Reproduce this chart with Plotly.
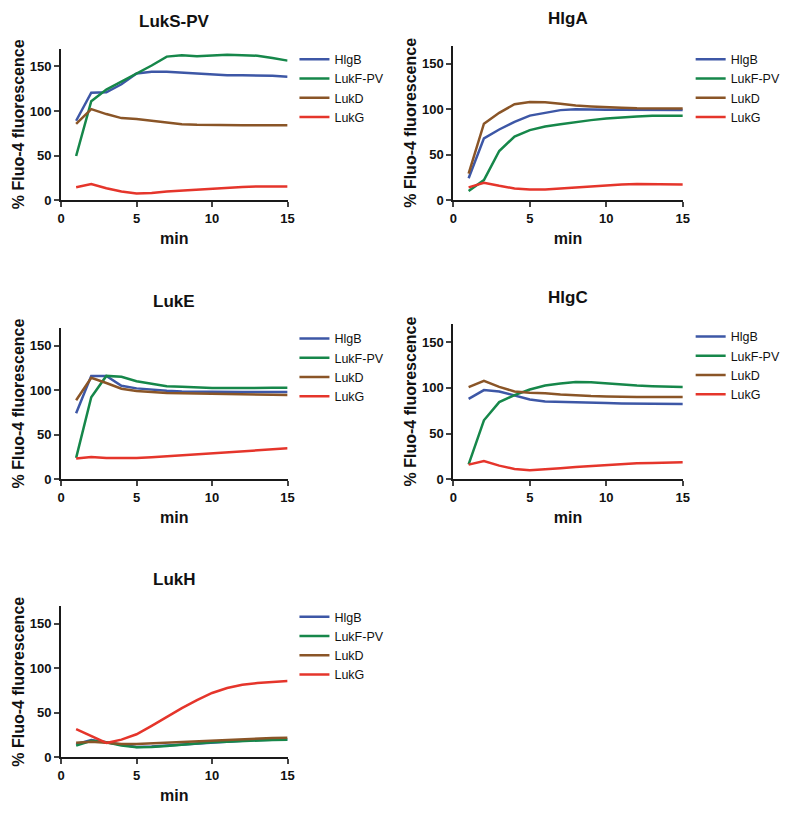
import plotly.graph_objects as go

minutes = list(range(1, 16))
series_names = ["HlgB", "LukF-PV", "LukD", "LukG"]
colors = ["#3D57A6", "#16874A", "#8A5527", "#E5352B"]
panel_titles = ["LukS-PV", "HlgA", "LukE", "HlgC", "LukH"]

# LukS-PV
lukspv_hlgb = [89, 120.5, 121, 130, 142, 144, 144, 143, 142, 141.5, 140, 140, 140, 139.5, 138.5]
lukspv_lukfpv = [49.5, 111, 124, 133, 142, 151, 161, 162.5, 161.5, 162, 163, 162.5, 162, 159.5, 156.5]
lukspv_lukd = [85.5, 102, 96.5, 92, 91, 89, 86.7, 85, 84.4, 84, 84, 84, 84, 84, 84]
lukspv_lukg = [14.5, 18, 13.3, 9.6, 7.5, 8, 9.6, 10.7, 12, 13.3, 14.4, 14.8, 15.2, 15.2, 15.2]
# HlgA
hlga_hlgb = [24, 68, 77.7, 86, 93, 96.3, 99, 100, 99.5, 99.5, 99.5, 99.5, 99.5, 99.5, 99]
hlga_lukfpv = [10, 22, 54, 70, 77, 81, 83.5, 86, 88, 89.7, 91, 92, 92.7, 92.7, 92.7]
hlga_lukd = [29, 84, 96, 105.5, 108, 107.7, 106, 104, 103, 102, 101.5, 101, 100.7, 100.7, 100.7]
hlga_lukg = [14, 19, 15.7, 12.8, 11.7, 11.7, 12.8, 14, 15, 16, 17.2, 17.6, 17.6, 17.2, 17.2]
# LukE
luke_hlgb = [74, 116, 116, 105, 102, 100.5, 99.4, 98.6, 98.3, 97.9, 97.9, 97.9, 97.9, 97.9, 97.9]
luke_lukfpv = [24, 92, 116, 115, 110, 107, 104.5, 103.8, 103, 102.3, 102.3, 102.7, 103, 102.7, 102.7]
luke_lukd = [88.7, 113.8, 108, 101.6, 99, 97.5, 96.8, 96.4, 96, 95.7, 95.3, 95, 95, 94.8, 94.6]
luke_lukg = [23.3, 25, 24, 23.6, 24, 24.8, 25.9, 27, 28, 29.2, 30.3, 31.4, 32.9, 34, 34.7]
# HlgC
hlgc_hlgb = [88, 97.5, 96, 92, 87.3, 85, 84.4, 84, 83.7, 83.3, 83, 83, 83, 82.6, 82.2]
hlgc_lukfpv = [16.3, 64.5, 84.4, 92, 98.2, 102.5, 104.7, 106.5, 106, 104.7, 103.3, 102.5, 101.8, 101, 101]
hlgc_lukd = [100.7, 107.6, 101, 96, 94.6, 94.2, 92.8, 91.7, 91, 90.6, 89.9, 89.9, 89.9, 89.5, 89.9]
hlgc_lukg = [16, 20, 14.9, 11.2, 9.8, 10.5, 12, 13.4, 14.5, 16, 16.7, 17.4, 17.8, 18.1, 18.5]
# LukH
lukh_hlgb = [15, 19.6, 17, 14, 11.8, 12.2, 13.3, 14.8, 16.3, 17.4, 18.1, 18.8, 19.6, 20, 20.3]
lukh_lukfpv = [13.3, 18.8, 17, 13.3, 11.5, 11.8, 13, 14.4, 15.9, 17, 17.7, 18.5, 19.2, 19.6, 20]
lukh_lukd = [16.6, 17.7, 16.6, 15.1, 15.1, 15.9, 16.6, 17.4, 18.1, 18.8, 19.6, 20.3, 21.4, 21.8, 22]
lukh_lukg = [31.8, 24.4, 16.3, 20, 26, 35.5, 45.8, 55.4, 64.3, 72.4, 78, 81.6, 83.5, 84.2, 85.7]

panels = [
    [lukspv_hlgb, lukspv_lukfpv, lukspv_lukd, lukspv_lukg],
    [hlga_hlgb, hlga_lukfpv, hlga_lukd, hlga_lukg],
    [luke_hlgb, luke_lukfpv, luke_lukd, luke_lukg],
    [hlgc_hlgb, hlgc_lukfpv, hlgc_lukd, hlgc_lukg],
    [lukh_hlgb, lukh_lukfpv, lukh_lukd, lukh_lukg],
]

OFF = 8  # default page body margin
W, H = 794 - 2 * OFF, 820 - 2 * OFF


def px(x):
    return (x - OFF) / W


def py(y):
    return 1 - (y - OFF) / H


# page-pixel geometry of each panel: (x_left, x_right, y_top, y_bottom)
geom = [
    (58, 289, 49, 202),
    (458, 692, 46, 202),
    (58, 289, 331, 484),
    (458, 692, 327, 484),
    (58, 289, 612, 765),
]
legend_pos = [(296, 45), (700, 45), (296, 327), (700, 325), (296, 608)]

FONT = "Liberation Sans, Arial, sans-serif"
fig = go.Figure()
layout = dict(
    width=W, height=H, margin=dict(l=0, r=0, t=0, b=0),
    paper_bgcolor="white", plot_bgcolor="white", showlegend=True,
    font=dict(family=FONT, color="#111"),
)
annotations = []
for i, data in enumerate(panels):
    k = "" if i == 0 else str(i + 1)
    lg = "legend" + k
    for name, col, vals in zip(series_names, colors, data):
        fig.add_trace(go.Scatter(
            x=minutes, y=vals, mode="lines", name=name,
            line=dict(color=col, width=2.5),
            xaxis="x" + k, yaxis="y" + k, legend=lg,
        ))
    xl, xr, yt, yb = geom[i]
    layout["xaxis" + k] = dict(
        domain=[px(xl), px(xr)], anchor="y" + k, range=[0, 15],
        tickvals=[0, 5, 10, 15], ticks="outside", ticklen=5, tickwidth=2,
        showline=True, linewidth=2, linecolor="#1a1a1a", showgrid=False,
        zeroline=False, tickfont=dict(size=13, family=FONT, weight="bold"),
        title=dict(text="<b>min</b>", font=dict(size=16, family=FONT), standoff=8),
    )
    layout["yaxis" + k] = dict(
        domain=[py(yb), py(yt)], anchor="x" + k, range=[0, 170],
        tickvals=[0, 50, 100, 150], ticks="outside", ticklen=5, tickwidth=2,
        showline=True, linewidth=2, linecolor="#1a1a1a", showgrid=False,
        zeroline=False, tickfont=dict(size=13, family=FONT, weight="bold"),
        title=dict(text="<b>% Fluo-4 fluorescence</b>", font=dict(size=16, family=FONT), standoff=1),
    )
    lx, ly = legend_pos[i]
    layout[lg] = dict(
        x=px(lx), y=py(ly), xanchor="left", yanchor="top",
        font=dict(size=12.5, family=FONT, color="#111"),
        bgcolor="rgba(0,0,0,0)", tracegroupgap=0, itemwidth=30,
    )
    annotations.append(dict(
        text="<b>" + panel_titles[i] + "</b>", x=px((xl + xr) / 2), y=py(yt - 27),
        xref="paper", yref="paper", showarrow=False, xanchor="center", yanchor="middle",
        font=dict(size=17, family=FONT, color="#111"),
    ))
layout["annotations"] = annotations
fig.update_layout(**layout)
fig.write_html("out.html")
